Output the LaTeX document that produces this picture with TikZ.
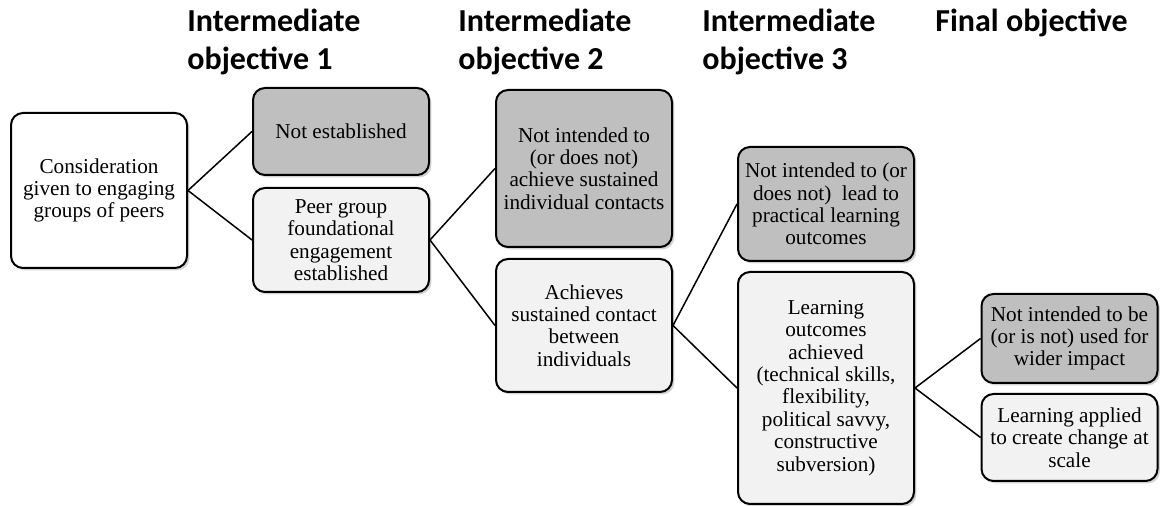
\documentclass[tikz,border=0pt]{standalone}
\usepackage{fontspec}
\setmainfont{Liberation Serif}
\newfontfamily\headfont{Carlito}
\usetikzlibrary{shadows}

\tikzset{
  box/.style={draw=black, line width=1pt, rounded corners=6pt, align=center,
    minimum width=88pt, inner sep=2pt, font=\fontsize{10.6}{11.2}\selectfont,
    drop shadow={shadow xshift=1.2pt, shadow yshift=-1.2pt, opacity=0.35, fill=gray}},
  endbox/.style={box, fill=black!25},
  nextbox/.style={box, fill=black!5},
  headtxt/.style={anchor=base west, align=left, inner sep=0pt,
    font=\headfont\bfseries\fontsize{16}{19}\selectfont},
  link/.style={line width=0.75pt}
}

\begin{document}
\begin{tikzpicture}[x=0.5pt,y=-0.5pt]
\useasboundingbox (0,0) rectangle (1160,506);

% column headings (base = last line)
\node[headtxt] (h1) at (187,70) {Intermediate\\objective 1};
\node[headtxt] (h2) at (458,70) {Intermediate\\objective 2};
\node[headtxt] (h3) at (702,70) {Intermediate\\objective 3};
\node[headtxt] (h4) at (935,32) {Final objective};

% boxes
\node[box, fill=white, minimum height=77.5pt] (root) at (99,190.5) {Consideration\\given to engaging\\groups of peers};
\node[endbox, minimum height=43.5pt] (notest) at (341,131.5) {Not established};
\node[nextbox, minimum height=52pt] (peergrp) at (341,240) {Peer group\\foundational\\engagement\\established};
\node[endbox, minimum height=78.5pt] (notcont) at (584,168.5) {Not intended to\\(or does not)\\achieve sustained\\individual contacts};
\node[nextbox, minimum height=66.5pt] (contact) at (584,325.5) {Achieves\\sustained contact\\between\\individuals};
\node[endbox, minimum height=57pt] (notlearn) at (826,204) {Not intended to (or\\does not)\ \ lead to\\practical learning\\outcomes};
\node[nextbox, minimum height=116pt] (learn) at (826,388) {Learning\\outcomes\\achieved\\(technical skills,\\flexibility,\\political savvy,\\constructive\\subversion)};
\node[endbox, minimum height=44.5pt] (notimpact) at (1069.5,338.5) {Not intended to be\\(or is not) used for\\wider impact};
\node[nextbox, minimum height=43.5pt] (scale) at (1069.5,437.5) {Learning applied\\to create change at\\scale};

% connectors
\foreach \a/\b in {root/notest, root/peergrp, peergrp/notcont, peergrp/contact,
                   contact/notlearn, contact/learn, learn/notimpact, learn/scale}
    \draw[link] (\a.east) -- (\b.west);

\end{tikzpicture}
\end{document}
